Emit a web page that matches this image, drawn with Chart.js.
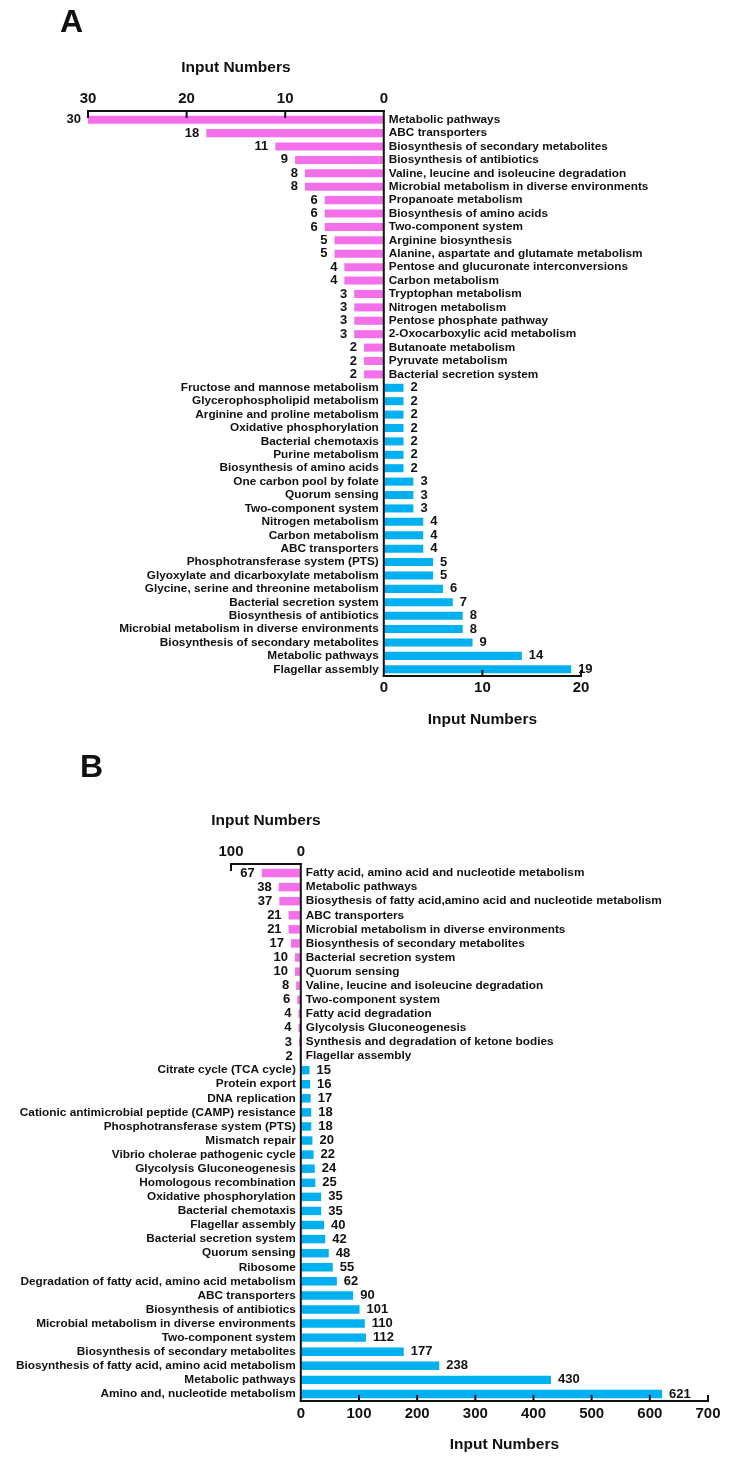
<!DOCTYPE html>
<html>
<head>
<meta charset="utf-8">
<script src="https://cdn.jsdelivr.net/npm/chart.js@4.4.0/dist/chart.umd.min.js"></script>
<style>
  body { margin: 0; background: #fff; }
  #wrap { position: relative; width: 734px; height: 1466px; }
  canvas { position: absolute; left: 0; }
  #chartA { top: 0; }
  #chartB { top: 740px; }
</style>
</head>
<body>
<div id="wrap">
  <canvas id="chartA" width="734" height="740"></canvas>
  <canvas id="chartB" width="734" height="726"></canvas>
</div>
<script>
// Panel A - pink (left) pathways and counts
const pathwaysA_left = [
    'Metabolic pathways', 'ABC transporters', 'Biosynthesis of secondary metabolites',
    'Biosynthesis of antibiotics', 'Valine, leucine and isoleucine degradation',
    'Microbial metabolism in diverse environments', 'Propanoate metabolism',
    'Biosynthesis of amino acids', 'Two-component system', 'Arginine biosynthesis',
    'Alanine, aspartate and glutamate metabolism', 'Pentose and glucuronate interconversions',
    'Carbon metabolism', 'Tryptophan metabolism', 'Nitrogen metabolism',
    'Pentose phosphate pathway', '2-Oxocarboxylic acid metabolism', 'Butanoate metabolism',
    'Pyruvate metabolism', 'Bacterial secretion system'
];
const countsA_left = [30, 18, 11, 9, 8, 8, 6, 6, 6, 5, 5, 4, 4, 3, 3, 3, 3, 2, 2, 2];

// Panel A - blue (right)
const pathwaysA_right = [
    'Fructose and mannose metabolism', 'Glycerophospholipid metabolism',
    'Arginine and proline metabolism', 'Oxidative phosphorylation', 'Bacterial chemotaxis',
    'Purine metabolism', 'Biosynthesis of amino acids', 'One carbon pool by folate',
    'Quorum sensing', 'Two-component system', 'Nitrogen metabolism', 'Carbon metabolism',
    'ABC transporters', 'Phosphotransferase system (PTS)',
    'Glyoxylate and dicarboxylate metabolism', 'Glycine, serine and threonine metabolism',
    'Bacterial secretion system', 'Biosynthesis of antibiotics',
    'Microbial metabolism in diverse environments', 'Biosynthesis of secondary metabolites',
    'Metabolic pathways', 'Flagellar assembly'
];
const countsA_right = [2, 2, 2, 2, 2, 2, 2, 3, 3, 3, 4, 4, 4, 5, 5, 6, 7, 8, 8, 9, 14, 19];

// Panel B - pink (left)
const pathwaysB_left = [
    'Fatty acid, amino acid and nucleotide metabolism', 'Metabolic pathways',
    'Biosythesis of fatty acid,amino acid and nucleotide metabolism', 'ABC transporters',
    'Microbial metabolism in diverse environments', 'Biosynthesis of secondary metabolites',
    'Bacterial secretion system', 'Quorum sensing', 'Valine, leucine and isoleucine degradation',
    'Two-component system', 'Fatty acid degradation', 'Glycolysis Gluconeogenesis',
    'Synthesis and degradation of ketone bodies', 'Flagellar assembly'
];
const countsB_left = [67, 38, 37, 21, 21, 17, 10, 10, 8, 6, 4, 4, 3, 2];

// Panel B - blue (right)
const pathwaysB_right = [
    'Citrate cycle (TCA cycle)', 'Protein export', 'DNA replication',
    'Cationic antimicrobial peptide (CAMP) resistance', 'Phosphotransferase system (PTS)',
    'Mismatch repair', 'Vibrio cholerae pathogenic cycle', 'Glycolysis Gluconeogenesis',
    'Homologous recombination', 'Oxidative phosphorylation', 'Bacterial chemotaxis',
    'Flagellar assembly', 'Bacterial secretion system', 'Quorum sensing', 'Ribosome',
    'Degradation of fatty acid, amino acid metabolism', 'ABC transporters',
    'Biosynthesis of antibiotics', 'Microbial metabolism in diverse environments',
    'Two-component system', 'Biosynthesis of secondary metabolites',
    'Biosynthesis of fatty acid, amino acid metabolism', 'Metabolic pathways',
    'Amino and, nucleotide metabolism'
];
const countsB_right = [15, 16, 17, 18, 18, 20, 22, 24, 25, 35, 35, 40, 42, 48, 55, 62, 90, 101, 110, 112, 177, 238, 430, 621];

const PINK = '#F470EA';
const BLUE = '#00B0F0';
const INK = '#111111';
const FONT = '"Liberation Sans", Arial, sans-serif';

// draws the half axes, inward ticks, labels and titles
const panelDecor = {
    id: 'panelDecor',
    afterDatasetsDraw(chart, args, opts) {
        const ctx = chart.ctx;
        const xs = chart.scales.x;
        const xt = chart.scales.xt;
        const ys = chart.scales.y;
        const area = chart.chartArea;
        const x0 = xs.getPixelForValue(0);
        const nLeft = opts.nLeft;

        ctx.save();
        ctx.strokeStyle = INK;
        ctx.lineWidth = 2;
        ctx.lineCap = 'square';

        const seg = (x1, y1, x2, y2) => {
            ctx.beginPath();
            ctx.moveTo(x1, y1);
            ctx.lineTo(x2, y2);
            ctx.stroke();
        };

        // vertical zero line
        seg(x0, area.top - 2, x0, area.bottom);
        // top axis (left half)
        const tLeft = xt.getPixelForValue(xt.min);
        seg(tLeft, area.top - 2, xt.getPixelForValue(0), area.top - 2);
        xt.ticks.filter(t => t.value < 0).forEach(t => {
            const px = xt.getPixelForValue(t.value);
            seg(px, area.top - 2, px, area.top + 4);
        });
        // bottom axis (right half)
        seg(x0, area.bottom, xs.getPixelForValue(xs.max), area.bottom);
        xs.ticks.filter(t => t.value > 0).forEach(t => {
            const px = xs.getPixelForValue(t.value);
            seg(px, area.bottom, px, area.bottom - 5);
        });

        // category and value labels
        ctx.fillStyle = INK;
        ctx.textBaseline = 'middle';
        chart.data.labels.forEach((name, i) => {
            const y = ys.getPixelForValue(i);
            if (i < nLeft) {
                const v = chart.data.datasets[0].data[i];
                const end = xs.getPixelForValue(v);
                ctx.font = 'bold 11.8px ' + FONT;
                ctx.textAlign = 'left';
                ctx.fillText(name, x0 + 5, y);
                ctx.font = 'bold 13px ' + FONT;
                ctx.textAlign = 'right';
                ctx.fillText(String(Math.abs(v)), end - 7, y);
            } else {
                const v = chart.data.datasets[1].data[i];
                const end = xs.getPixelForValue(v);
                ctx.font = 'bold 11.8px ' + FONT;
                ctx.textAlign = 'right';
                ctx.fillText(name, x0 - 5, y);
                ctx.font = 'bold 13px ' + FONT;
                ctx.textAlign = 'left';
                ctx.fillText(String(v), end + 7, y);
            }
        });

        // axis titles
        ctx.font = 'bold 15.5px ' + FONT;
        ctx.textAlign = 'center';
        ctx.fillText(opts.title, (tLeft + x0) / 2, area.top - 45);
        ctx.fillText(opts.title, (x0 + xs.getPixelForValue(xs.max)) / 2, area.bottom + 44);

        // panel letter
        ctx.font = 'bold 32px ' + FONT;
        ctx.textAlign = 'left';
        ctx.textBaseline = 'alphabetic';
        ctx.fillText(opts.letter, opts.letterX, opts.letterY);
        ctx.restore();
    }
};

function makePanel(canvasId, cfg) {
    const labels = cfg.leftNames.concat(cfg.rightNames);
    const nL = cfg.leftNames.length;
    const nR = cfg.rightNames.length;
    const leftData = cfg.leftCounts.map(v => -v).concat(new Array(nR).fill(null));
    const rightData = new Array(nL).fill(null).concat(cfg.rightCounts);
    const tickFont = { family: FONT, size: 15, weight: 'bold' };

    return new Chart(document.getElementById(canvasId), {
        type: 'bar',
        data: {
            labels: labels,
            datasets: [
                { data: leftData, backgroundColor: PINK, xAxisID: 'x', grouped: false,
                  barPercentage: 0.6, categoryPercentage: 1 },
                { data: rightData, backgroundColor: BLUE, xAxisID: 'x', grouped: false,
                  barPercentage: 0.6, categoryPercentage: 1 }
            ]
        },
        options: {
            indexAxis: 'y',
            responsive: false,
            animation: false,
            layout: { padding: cfg.padding },
            plugins: {
                legend: { display: false },
                tooltip: { enabled: false },
                panelDecor: {
                    nLeft: nL,
                    title: 'Input Numbers',
                    letter: cfg.letter,
                    letterX: cfg.letterX,
                    letterY: cfg.letterY
                }
            },
            scales: {
                y: { type: 'category', display: false, offset: true },
                x: {
                    type: 'linear', position: 'bottom',
                    min: cfg.bottomMin, max: cfg.bottomMax,
                    grid: { display: false, drawTicks: false },
                    border: { display: false },
                    ticks: {
                        stepSize: cfg.bottomStep, color: INK, font: tickFont,
                        padding: cfg.bottomPad, maxRotation: 0, autoSkip: false,
                        callback: v => (v >= 0 ? v : null)
                    },
                    afterFit: s => { s.height = 60; }
                },
                xt: {
                    type: 'linear', position: 'top',
                    min: cfg.topMin, max: cfg.topMax,
                    grid: { display: false, drawTicks: false },
                    border: { display: false },
                    ticks: {
                        stepSize: cfg.topStep, color: INK, font: tickFont,
                        padding: cfg.topPad, maxRotation: 0, autoSkip: false,
                        callback: v => (v <= 0 ? Math.abs(v) : null)
                    },
                    afterFit: s => { s.height = 60; }
                }
            }
        },
        plugins: [panelDecor]
    });
}

makePanel('chartA', {
    leftNames: pathwaysA_left, leftCounts: countsA_left,
    rightNames: pathwaysA_right, rightCounts: countsA_right,
    bottomMin: -30, bottomMax: 20, bottomStep: 10, bottomPad: 3,
    topMin: -30, topMax: 20, topStep: 10, topPad: 5,
    padding: { left: 88, right: 153, top: 53, bottom: 4 },
    letter: 'A', letterX: 60, letterY: 32
});

makePanel('chartB', {
    leftNames: pathwaysB_left, leftCounts: countsB_left,
    rightNames: pathwaysB_right, rightCounts: countsB_right,
    bottomMin: -120, bottomMax: 700, bottomStep: 100, bottomPad: 4,
    topMin: -100, topMax: 581, topStep: 100, topPad: 5,
    padding: { left: 231, right: 26, top: 66, bottom: 5 },
    letter: 'B', letterX: 80, letterY: 37
});
</script>
</body>
</html>
